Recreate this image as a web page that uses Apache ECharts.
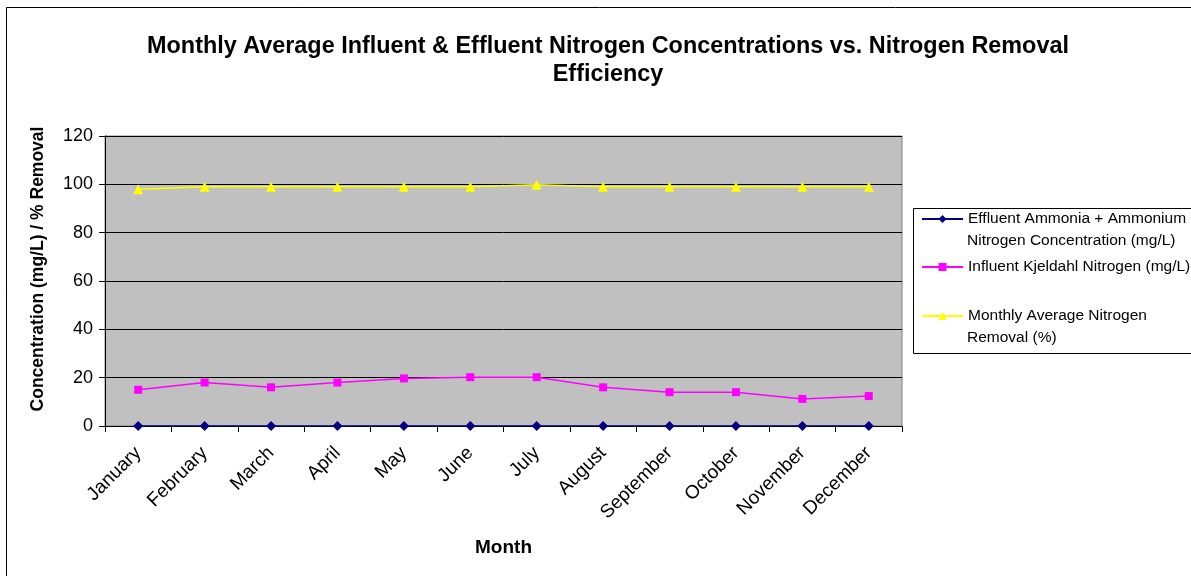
<!DOCTYPE html>
<html><head><meta charset="utf-8">
<script src="https://cdn.jsdelivr.net/npm/echarts@6/dist/echarts.min.js"></script>
<style>html,body{margin:0;padding:0;background:#fff}#c{width:1191px;height:576px}</style>
</head><body><div id="c"></div>
<script>
const months = ['January','February','March','April','May','June','July','August','September','October','November','December'];
const effluentNH = [0,0,0,0,0,0,0,0,0,0,0,0];
const influentTKN = [15,18,16,18,19.7,20.2,20.2,16,14,14,11.2,12.4];
const removalPct = [98,99,99,99,99,99,99.8,99,99,99,99,99];
const yTicks = [0,20,40,60,80,100,120];
const seriesNames = ['Effluent Ammonia + Ammonium\nNitrogen Concentration (mg/L)','Influent Kjeldahl Nitrogen (mg/L)','Monthly Average Nitrogen\nRemoval (%)'];

const chart = echarts.init(document.getElementById('c'), null, {renderer:'canvas'});
const FONT = 'Arial, "Liberation Sans", sans-serif';
const LEG_FS = 15.5;
function legendAt(name, top){
  return {show:true, data:[name], left:921, top:top, padding:0, orient:'vertical', itemWidth:41, itemHeight:10, itemGap:0,
    formatter:function(n){return n.split('\n')[0];},
    textStyle:{fontFamily:FONT, fontSize:LEG_FS, color:'#000', lineHeight:22}, selectedMode:false};
}
function secondLine(name, y){
  const parts = name.split('\n');
  return {type:'text', left:967, top:y-11, silent:true,
    style:{text:parts.slice(1).join('\n'), font:LEG_FS+'px '+FONT, fill:'#000', lineHeight:22}};
}
chart.setOption({
  animation:false,
  backgroundColor:'#fff',
  title:{text:'Monthly Average Influent & Effluent Nitrogen Concentrations vs. Nitrogen Removal\nEfficiency',
    left:603, top:28, textAlign:'center',
    textStyle:{fontFamily:FONT, fontSize:23.4, fontWeight:'bold', color:'#000', lineHeight:28}},
  graphic:[
    {type:'rect', shape:{x:6.5,y:7.5,width:1200,height:600}, style:{fill:null, stroke:'#000', lineWidth:1}, silent:true},
    {type:'rect', shape:{x:913.5,y:208.5,width:300,height:145}, style:{fill:null, stroke:'#000', lineWidth:1}, silent:true},
    secondLine(seriesNames[0], 241),
    secondLine(seriesNames[2], 338),
    {type:'text', silent:true, x:38, y:269, rotation:Math.PI/2,
      style:{text:'Concentration (mg/L) / % Removal', font:'bold 17.5px '+FONT, fill:'#000', align:'center', verticalAlign:'middle'}}
  ],
  legend:[legendAt(seriesNames[0], 208), legendAt(seriesNames[1], 256), legendAt(seriesNames[2], 305)],
  grid:{left:105, right:289, top:136, bottom:150, show:true, backgroundColor:'#c0c0c0', borderColor:'#808080', borderWidth:1},
  xAxis:{type:'category', data:months, boundaryGap:true,
    name:'Month', nameLocation:'middle', nameGap:112,
    nameTextStyle:{fontFamily:FONT, fontSize:19, fontWeight:'bold', color:'#000'},
    axisLine:{lineStyle:{color:'#000', width:1}},
    axisTick:{show:true, inside:false, length:6, alignWithLabel:false, lineStyle:{color:'#000'}},
    axisLabel:{rotate:45, fontFamily:FONT, fontSize:19, color:'#000', margin:24, interval:0},
    splitLine:{show:false}},
  yAxis:{type:'value', min:0, max:120, interval:20,
    axisLine:{show:true, lineStyle:{color:'#000', width:1}},
    axisTick:{show:true, inside:false, length:6, lineStyle:{color:'#000'}},
    axisLabel:{fontFamily:FONT, fontSize:18, color:'#000', margin:12,
      formatter:function(v){return yTicks.indexOf(v)>=0? String(v):'';}},
    splitLine:{show:true, lineStyle:{color:'#000', width:1}}},
  series:[
    {name:seriesNames[0], type:'line', data:effluentNH, symbol:'diamond', symbolSize:10,
      itemStyle:{color:'#000080'}, lineStyle:{color:'#000080', width:1.5}, z:4},
    {name:seriesNames[1], type:'line', data:influentTKN, symbol:'rect', symbolSize:8,
      itemStyle:{color:'#ff00ff'}, lineStyle:{color:'#ff00ff', width:1.5}, z:3},
    {name:seriesNames[2], type:'line', data:removalPct, symbol:'triangle', symbolSize:10,
      itemStyle:{color:'#ffff00'}, lineStyle:{color:'#ffff00', width:1.5}, z:3}
  ]
});
</script></body></html>
